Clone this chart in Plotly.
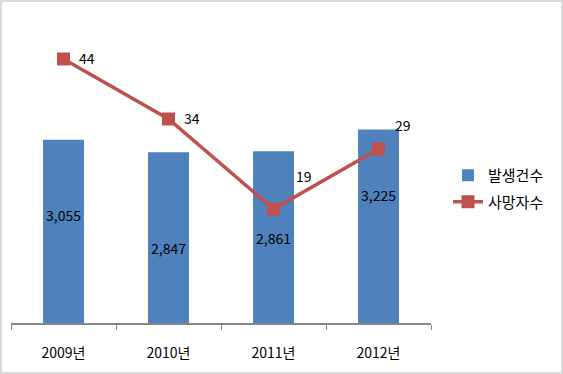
import plotly.graph_objects as go

categories = ["2009년", "2010년", "2011년", "2012년"]
occurrences = [3055, 2847, 2861, 3225]
deaths = [44, 34, 19, 29]

# pixel offsets for labels (as placed in the original chart)
bar_label_dy = [16, -10, -1, 31]
line_label_dx = [23, 23, 30, 24]
line_label_dy = [1, 1, 33, 24]

W, H = 563, 374
L, R, T, B = 11, 132, 23, 51
pw = W - L - R
ph = H - T - B
FONT = "Noto Sans CJK KR"

fig = go.Figure()
fig.add_trace(go.Bar(
    x=categories, y=occurrences, name="발생건수", legendgroup="a",
    marker=dict(color="#4F81BD", line=dict(width=0)),
    width=0.39,
))
fig.add_trace(go.Scatter(
    x=categories, y=deaths, name="사망자수", yaxis="y2", legendgroup="b",
    mode="lines+markers",
    line=dict(color="#C0504D", width=3.5),
    marker=dict(symbol="square", size=13, color="#C0504D"),
))

annotations = [
    dict(x=c, y=v / 2, xref="x", yref="y", text=f"{v:,}", showarrow=False,
         yshift=dy, font=dict(size=14, color="black", family=FONT))
    for c, v, dy in zip(categories, occurrences, bar_label_dy)
] + [
    dict(x=c, y=v, xref="x", yref="y2", text=str(v), showarrow=False,
         xshift=dx, yshift=dy, font=dict(size=14, color="black", family=FONT))
    for c, v, dx, dy in zip(categories, deaths, line_label_dx, line_label_dy)
]

fig.update_layout(
    width=W, height=H,
    margin=dict(l=L, r=R, t=T, b=B),
    paper_bgcolor="white", plot_bgcolor="white",
    font=dict(family=FONT, color="black"),
    xaxis=dict(
        showline=True, linecolor="#868686", linewidth=1.5,
        ticks="outside", tickson="boundaries", ticklen=5, tickcolor="#868686",
        tickfont=dict(size=14), ticklabelstandoff=16,
        showgrid=False, zeroline=False,
    ),
    yaxis=dict(range=[0, 5000], visible=False, showgrid=False),
    yaxis2=dict(range=[0, 50], visible=False, overlaying="y", side="right", showgrid=False),
    legend=dict(x=(448 - L) / pw, y=(T + ph - 188.5) / ph, xanchor="left", yanchor="middle",
                font=dict(size=15), traceorder="grouped", tracegroupgap=4,
                bgcolor="rgba(0,0,0,0)"),
    showlegend=True,
    annotations=annotations,
    shapes=[dict(type="rect", xref="paper", yref="paper",
                 x0=(-L + 1) / pw, x1=(W - L - 1) / pw,
                 y0=(-B + 1) / ph, y1=(ph + T - 1) / ph,
                 line=dict(color="#D9D9D9", width=2), fillcolor="rgba(0,0,0,0)")],
)

fig.write_html("out.html", config={"displayModeBar": False},
               post_script="document.body.style.margin='0';")
